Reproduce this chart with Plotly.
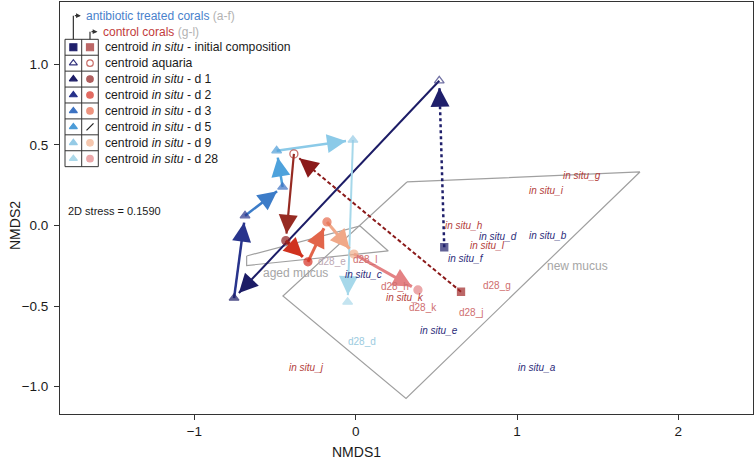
import numpy as np
import plotly.graph_objects as go

# ---------------- data (NMDS coordinates) ----------------
abx_stages = ["initial", "aquaria", "d 1", "d 2", "d 3", "d 5", "d 9", "d 28"]
abx_x = [0.549, 0.518, -0.754, -0.686, -0.453, -0.490, -0.017, -0.050]
abx_y = [-0.135, 0.898, -0.450, 0.061, 0.239, 0.464, 0.530, -0.475]

ctrl_stages = ["initial", "aquaria", "d 1", "d 2", "d 3", "d 9", "d 28"]
ctrl_x = [0.653, -0.383, -0.433, -0.296, -0.178, -0.011, 0.386]
ctrl_y = [-0.411, 0.444, -0.094, -0.225, 0.022, -0.177, -0.400]

sample_labels = ["in situ_a", "in situ_b", "in situ_c", "in situ_d", "in situ_e", "in situ_f",
                 "in situ_g", "in situ_h", "in situ_i", "in situ_j", "in situ_k", "in situ_l",
                 "d28_d", "d28_e", "d28_g", "d28_h", "d28_j", "d28_k", "d28_l"]
sample_x = [1.124, 1.190, 0.047, 0.882, 0.516, 0.684,
            1.401, 0.671, 1.184, -0.308, 0.306, 0.820,
            0.037, -0.149, 0.874, 0.244, 0.715, 0.417, 0.057]
sample_y = [-0.882, -0.065, -0.303, -0.066, -0.653, -0.202,
            0.313, -0.001, 0.216, -0.882, -0.448, -0.124,
            -0.721, -0.225, -0.369, -0.380, -0.541, -0.506, -0.208]

aged_mucus_x = [-0.676, 0.027, 0.202, -0.676]
aged_mucus_y = [-0.189, -0.003, -0.158, -0.248]
new_mucus_x = [0.318, 1.762, 0.312, -0.451]
new_mucus_y = [0.270, 0.332, -1.072, -0.437]

stress = 0.1590
x_ticks = [-1, 0, 1, 2]
y_ticks = [-1.0, -0.5, 0.0, 0.5, 1.0]

# ---------------- styles ----------------
FONT = "Liberation Sans, Arial, Helvetica, sans-serif"
abx_col = {"initial": "#1f1f6b", "aquaria": "#35357e", "d 1": "#1c1c66", "d 2": "#26318a",
           "d 3": "#3c72c2", "d 5": "#4c9cd8", "d 9": "#96cbe6", "d 28": "#acd9ea"}
ctrl_col = {"initial": "#a02828", "aquaria": "#b0302a", "d 1": "#8e1c1c", "d 2": "#d62d20",
            "d 3": "#e6684a", "d 9": "#f2b08c", "d 28": "#e38385"}
abx_arrow_col = {"aquaria": "#1f1f6b", "d 1": "#1c1c66", "d 2": "#28348c", "d 3": "#3c7cc8",
                 "d 5": "#4ea2dc", "d 9": "#8bcae8", "d 28": "#a6d8ea"}
ctrl_arrow_col = {"aquaria": "#8b1a1a", "d 1": "#962a22", "d 2": "#d0321e", "d 3": "#e2654a",
                  "d 9": "#f0a888", "d 28": "#e48284"}
abx_width = {"aquaria": 2.5, "d 1": 2.0, "d 2": 2.5, "d 3": 2.5, "d 5": 2.5, "d 9": 2.5, "d 28": 2.0}
ctrl_width = {"aquaria": 2.0, "d 1": 2.2, "d 2": 3.0, "d 3": 3.0, "d 9": 3.0, "d 28": 3.0}

# plot box in pixels (756x460 canvas)
BOX_L, BOX_R, BOX_T, BOX_B = 60, 753, 2, 414
X_RANGE = [-1.833, 2.463]
Y_RANGE = [-1.169, 1.386]
PLOT_W = BOX_R - BOX_L
PLOT_H = BOX_B - BOX_T
PX = (X_RANGE[1] - X_RANGE[0]) / PLOT_W   # data units per pixel


def paper_x(px):
    return (px - BOX_L) / PLOT_W


def paper_y(py):
    return (BOX_B - py) / PLOT_H


fig = go.Figure()
annotations = []
shapes = []

# mucus polygons
for px_, py_ in [(aged_mucus_x, aged_mucus_y), (new_mucus_x, new_mucus_y)]:
    fig.add_trace(go.Scatter(x=px_ + [px_[0]], y=py_ + [py_[0]], mode="lines",
                             line=dict(color="#a0a0a0", width=1.2), hoverinfo="skip"))


def add_arrow(xa, ya, xb, yb, color, width, dash):
    dx, dy = xb - xa, yb - ya
    L = np.hypot(dx, dy)
    ux, uy = dx / L, dy / L
    gap = 7 * PX
    tx, ty = xb - gap * ux, yb - gap * uy
    fig.add_trace(go.Scatter(x=[xa, tx], y=[ya, ty], mode="lines",
                             line=dict(color=color, width=width, dash=dash), hoverinfo="skip"))
    back = 10 * PX
    annotations.append(dict(x=tx, y=ty, ax=tx - back * ux, ay=ty - back * uy,
                            xref="x", yref="y", axref="x", ayref="y", text="",
                            showarrow=True, arrowhead=2, arrowwidth=2,
                            arrowsize=19 / (2 * 5.0), arrowcolor=color))


for i in range(1, len(abx_stages)):
    s = abx_stages[i]
    add_arrow(abx_x[i - 1], abx_y[i - 1], abx_x[i], abx_y[i], abx_arrow_col[s], abx_width[s],
              "dot" if i == 1 else "solid")
for i in range(1, len(ctrl_stages)):
    s = ctrl_stages[i]
    add_arrow(ctrl_x[i - 1], ctrl_y[i - 1], ctrl_x[i], ctrl_y[i], ctrl_arrow_col[s], ctrl_width[s],
              "4px,2.5px" if i == 1 else "solid")


def sym_abx(s):
    if s == "initial":
        return "square"
    if s == "aquaria":
        return "triangle-up-open"
    return "triangle-up"


def sym_ctrl(s):
    if s == "initial":
        return "square"
    if s == "aquaria":
        return "circle-open"
    return "circle"


fig.add_trace(go.Scatter(x=abx_x, y=abx_y, mode="markers", hoverinfo="skip",
                         marker=dict(symbol=[sym_abx(s) for s in abx_stages],
                                     color=[abx_col[s] for s in abx_stages],
                                     size=[7 if s == "initial" else 8.5 for s in abx_stages],
                                     line=dict(width=1.3, color=[abx_col[s] for s in abx_stages]))))
fig.add_trace(go.Scatter(x=ctrl_x, y=ctrl_y, mode="markers", hoverinfo="skip",
                         marker=dict(symbol=[sym_ctrl(s) for s in ctrl_stages],
                                     color=[ctrl_col[s] for s in ctrl_stages],
                                     size=[7 if s == "initial" else 8 for s in ctrl_stages],
                                     line=dict(width=1.3, color=[ctrl_col[s] for s in ctrl_stages]))))

# sample labels
for lab, lx, ly in zip(sample_labels, sample_x, sample_y):
    letter = lab[-1]
    abx = letter in "abcdef"
    if lab.startswith("in situ"):
        col = "#2c2c7a" if abx else "#b4403a"
        txt = "<i>" + lab + "</i>"
    else:
        col = "#9ccbe0" if abx else "#cf6e6e"
        if lab == "d28_e":
            col = "#bca8b4"
        txt = lab
    annotations.append(dict(x=lx, y=ly, xref="x", yref="y", text=txt, showarrow=False,
                            font=dict(family=FONT, size=10, color=col)))

annotations.append(dict(x=-0.376, y=-0.295, xref="x", yref="y", text="aged mucus", showarrow=False,
                        font=dict(family=FONT, size=12, color="#a6a6a6")))
annotations.append(dict(x=1.376, y=-0.251, xref="x", yref="y", text="new mucus", showarrow=False,
                        font=dict(family=FONT, size=12, color="#a6a6a6")))

# ---------------- legend (pixel overlay axes) ----------------
box_l, box_m, box_r, box_t, row_h = 65, 81.7, 98.3, 39.3, 15.92
n_rows = 8
box_b = box_t + n_rows * row_h
legend_stages = ["initial", "aquaria", "d 1", "d 2", "d 3", "d 5", "d 9", "d 28"]
row_text = ["centroid <i>in situ</i> - initial composition", "centroid aquaria"] + \
           ["centroid <i>in situ</i> - " + s for s in legend_stages[2:]]
cy = [box_t + row_h * (i + 0.5) for i in range(n_rows)]
c1 = (box_l + box_m) / 2
c2 = (box_m + box_r) / 2

for x0 in [box_l, box_m, box_r]:
    shapes.append(dict(type="line", xref="x2", yref="y2", x0=x0, x1=x0, y0=box_t, y1=box_b,
                       line=dict(color="#333333", width=1)))
for i in range(n_rows + 1):
    yy = box_t + i * row_h
    shapes.append(dict(type="line", xref="x2", yref="y2", x0=box_l, x1=box_r, y0=yy, y1=yy,
                       line=dict(color="#333333", width=1)))

fig.add_trace(go.Scatter(x=[c1] * n_rows, y=cy, mode="markers", xaxis="x2", yaxis="y2", hoverinfo="skip",
                         marker=dict(symbol=[sym_abx(s) for s in legend_stages],
                                     color=[abx_col[s] for s in legend_stages],
                                     size=7, line=dict(width=1.2, color=[abx_col[s] for s in legend_stages]))))
ctrl_leg = [s for s in legend_stages if s in ctrl_col]
fig.add_trace(go.Scatter(x=[c2] * len(ctrl_leg), y=[cy[legend_stages.index(s)] for s in ctrl_leg],
                         mode="markers", xaxis="x2", yaxis="y2", hoverinfo="skip",
                         marker=dict(symbol=[sym_ctrl(s) for s in ctrl_leg],
                                     color=[ctrl_col[s] for s in ctrl_leg],
                                     size=[7 if s == "initial" else 6.5 for s in ctrl_leg],
                                     line=dict(width=1.2, color=[ctrl_col[s] for s in ctrl_leg]))))
# "/" for missing control d5
r5 = cy[legend_stages.index("d 5")]
shapes.append(dict(type="line", xref="x2", yref="y2", x0=c2 - 3.5, x1=c2 + 3.5, y0=r5 + 3.5, y1=r5 - 3.5,
                   line=dict(color="#222222", width=1.3)))

for t, yy in zip(row_text, cy):
    annotations.append(dict(x=103, y=yy, xref="x2", yref="y2", text=t, showarrow=False,
                            xanchor="left", font=dict(family=FONT, size=12.2, color="#1a1a1a")))

# brackets
for cx, ty, label in [(c1, 15.7, "<span style='color:#4a82cc'>antibiotic treated corals</span>"
                                  "<span style='color:#b3b3b3'> (a-f)</span>"),
                      (c2, 31.7, "<span style='color:#c23b3b'>control corals</span>"
                                 "<span style='color:#b3b3b3'> (g-l)</span>")]:
    shapes.append(dict(type="line", xref="x2", yref="y2", x0=cx, x1=cx, y0=box_t, y1=ty,
                       line=dict(color="#333333", width=1.2)))
    annotations.append(dict(x=cx + 7.5, y=ty, ax=cx, ay=ty, xref="x2", yref="y2", axref="x2", ayref="y2",
                            text="", showarrow=True, arrowhead=2, arrowwidth=1.2, arrowsize=0.8,
                            arrowcolor="#333333"))
    annotations.append(dict(x=cx + 10.5, y=ty, xref="x2", yref="y2", text=label, showarrow=False,
                            xanchor="left", font=dict(family=FONT, size=12)))

annotations.append(dict(x=66, y=211, xref="x2", yref="y2", text="2D stress = %.4f" % stress,
                        showarrow=False, xanchor="left", font=dict(family=FONT, size=11, color="#1a1a1a")))

# axis titles (placed where R draws them)
annotations.append(dict(x=paper_x(356), y=paper_y(452), xref="paper", yref="paper", text="NMDS1",
                        showarrow=False, font=dict(family=FONT, size=14, color="#1a1a1a"),
                        xanchor="center", yanchor="middle"))
annotations.append(dict(x=paper_x(15), y=paper_y(226), xref="paper", yref="paper", text="NMDS2",
                        showarrow=False, textangle=-90, font=dict(family=FONT, size=14, color="#1a1a1a"),
                        xanchor="center", yanchor="middle"))

axis_common = dict(showgrid=False, zeroline=False, showline=True, linecolor="#333333", linewidth=1,
                   mirror=True, ticks="outside", ticklen=5, tickcolor="#333333", automargin=False,
                   tickfont=dict(family=FONT, size=13.5, color="#1a1a1a"))

fig.update_layout(
    width=756, height=460,
    margin=dict(l=BOX_L, r=756 - BOX_R, t=BOX_T, b=460 - BOX_B, autoexpand=False),
    paper_bgcolor="white", plot_bgcolor="white",
    showlegend=False,
    shapes=shapes, annotations=annotations,
    xaxis=dict(range=X_RANGE, tickvals=x_ticks, ticktext=["\u22121", "0", "1", "2"], **axis_common),
    yaxis=dict(range=Y_RANGE, tickvals=y_ticks, ticklabelstandoff=3,
               ticktext=[("\u2212" if v < 0 else "") + "%.1f" % abs(v) for v in y_ticks],
               **axis_common),
    xaxis2=dict(range=[BOX_L, BOX_R], overlaying="x", visible=False, fixedrange=True),
    yaxis2=dict(range=[BOX_B, BOX_T], overlaying="y", visible=False, fixedrange=True),
)

fig.write_html("out.html", config={"displayModeBar": False},
               post_script="document.body.style.margin='0px';")
